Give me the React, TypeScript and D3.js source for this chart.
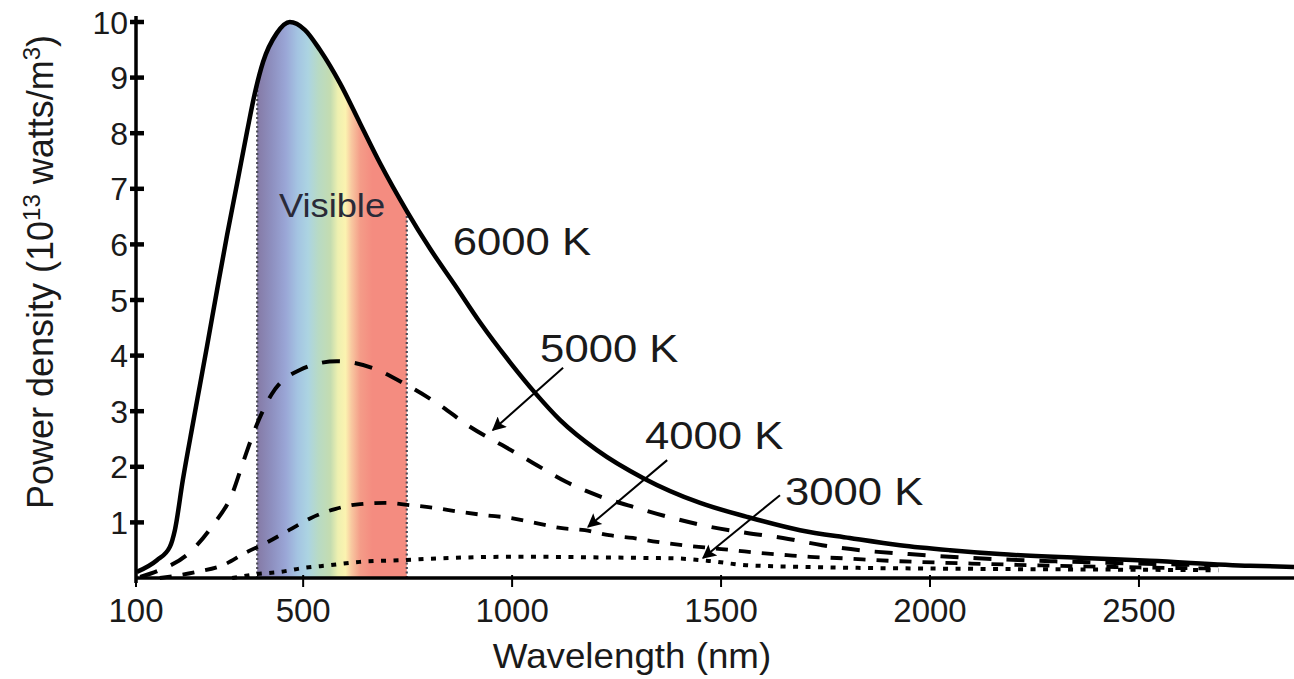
import React from "react";
import * as d3 from "d3";

const W = 1294;
const H = 679;

// ---------- data ----------
const xTicks = [100, 500, 1000, 1500, 2000, 2500];
const yTicks = [1, 2, 3, 4, 5, 6, 7, 8, 9, 10];

const lambda6000 = [102, 150, 181, 193, 212, 236, 253, 270, 294, 318, 342, 366, 385, 404, 437, 468, 504, 540, 588, 636, 684, 748, 803, 863, 923, 995, 1055, 1115, 1203, 1313, 1450, 1562, 1689, 1808, 1928, 2048, 2167, 2366, 2526, 2766, 2871];
const power6000 = [0.11, 0.32, 0.56, 0.86, 1.76, 2.77, 3.47, 4.17, 5.18, 6.17, 7.1, 8.04, 8.74, 9.28, 9.8, 10.0, 9.86, 9.5, 8.9, 8.18, 7.46, 6.6, 5.93, 5.27, 4.6, 3.88, 3.33, 2.84, 2.3, 1.8, 1.35, 1.1, 0.86, 0.72, 0.59, 0.5, 0.43, 0.36, 0.31, 0.22, 0.2];

const lambda5000 = [110, 153, 227, 284, 330, 358, 387, 425, 492, 581, 665, 748, 827, 899, 976, 1050, 1129, 1213, 1299, 1383, 1474, 1562, 1648, 1742, 1832, 1950, 2100, 2300, 2500, 2690];
const power5000 = [0.02, 0.13, 0.45, 0.95, 1.51, 2.12, 2.72, 3.31, 3.74, 3.9, 3.78, 3.47, 3.11, 2.72, 2.39, 2.07, 1.73, 1.46, 1.26, 1.08, 0.92, 0.81, 0.72, 0.59, 0.5, 0.43, 0.36, 0.3, 0.26, 0.23];

const lambda4000 = [157, 246, 308, 361, 411, 466, 519, 576, 636, 696, 756, 815, 875, 935, 995, 1055, 1115, 1174, 1232, 1289, 1347, 1409, 1474, 1529, 1593, 1658, 1713, 1777, 1900, 2100, 2300, 2500, 2690];
const power4000 = [0.0, 0.11, 0.23, 0.45, 0.63, 0.86, 1.08, 1.24, 1.33, 1.35, 1.31, 1.26, 1.19, 1.13, 1.08, 0.99, 0.9, 0.86, 0.77, 0.72, 0.65, 0.59, 0.54, 0.5, 0.45, 0.41, 0.38, 0.36, 0.31, 0.26, 0.22, 0.19, 0.17];

const lambda3000 = [330, 390, 445, 500, 564, 636, 732, 851, 971, 1091, 1210, 1330, 1400, 1480, 1560, 1700, 1850, 2000, 2200, 2450, 2690];
const power3000 = [0.0, 0.07, 0.11, 0.18, 0.23, 0.29, 0.32, 0.36, 0.38, 0.38, 0.37, 0.36, 0.35, 0.3, 0.23, 0.2, 0.18, 0.17, 0.16, 0.15, 0.14];

const visibleRange = [390, 748];

const curveLabels = ["6000 K", "5000 K", "4000 K", "3000 K"];
const labelLambda = [858, 1067, 1318, 1653];
const labelPower = [5.81, 3.88, 2.32, 1.31];

const arrowFromLambda = [1122, 1371, 1641];
const arrowFromPower = [3.78, 2.12, 1.49];
const arrowToLambda = [954, 1182, 1457];
const arrowToPower = [2.66, 0.92, 0.36];

// ---------- styles ----------
const spectrumStops: [number, string][] = [
  [0, "#857aa6"],
  [0.1, "#8e90c0"],
  [0.19, "#9aa6d6"],
  [0.27, "#a4c4e2"],
  [0.34, "#acd4e2"],
  [0.41, "#b8dac4"],
  [0.49, "#c4dcb0"],
  [0.54, "#eef0b0"],
  [0.59, "#fbf3b0"],
  [0.63, "#f8c8a0"],
  [0.69, "#f49c88"],
  [0.77, "#f48c80"],
  [1, "#f48c80"],
];

const FONT = "'Liberation Sans', Arial, Helvetica, sans-serif";
const TEXT = "#1a1a1a";

export default function App() {
  const x = d3.scaleLinear().domain([100, 2871]).range([136, 1294]);
  const y = d3.scaleLinear().domain([0, 10]).range([578, 22]);

  const mkLine = (lam: number[], pw: number[]) =>
    d3
      .line<number>()
      .x((_, i) => x(lam[i]))
      .y((d) => y(d))
      .curve(d3.curveMonotoneX)(pw) || "";

  const area6000 =
    d3
      .area<number>()
      .x((_, i) => x(lambda6000[i]))
      .y0(y(0))
      .y1((d) => y(d))
      .curve(d3.curveMonotoneX)(power6000) || "";

  const series = [
    { d: mkLine(lambda6000, power6000), dash: "none", w: 4.5 },
    { d: mkLine(lambda5000, power5000), dash: "18 15", w: 4 },
    { d: mkLine(lambda4000, power4000), dash: "12 11", w: 3.8 },
    { d: mkLine(lambda3000, power3000), dash: "5 7.5", w: 4 },
  ];

  const vx0 = x(visibleRange[0]);
  const vx1 = x(visibleRange[1]);

  return (
    <svg
      width={W}
      height={H}
      viewBox={`0 0 ${W} ${H}`}
      style={{ position: "absolute", left: 0, top: 0, background: "#fff" }}
      fontFamily={FONT}
    >
      <defs>
        <linearGradient id="spec" gradientUnits="userSpaceOnUse" x1={vx0} x2={vx1} y1={0} y2={0}>
          {spectrumStops.map(([o, c], i) => (
            <stop key={i} offset={o} stopColor={c} />
          ))}
        </linearGradient>
        <clipPath id="bandClip">
          <rect x={vx0} y={0} width={vx1 - vx0} height={y(0)} />
        </clipPath>
        <clipPath id="underCurve">
          <path d={area6000} />
        </clipPath>
        <marker
          id="arrowHead"
          viewBox="0 0 10 10"
          refX={9}
          refY={5}
          markerWidth={22}
          markerHeight={14}
          markerUnits="userSpaceOnUse"
          orient="auto"
        >
          <path d="M0,0 L10,5 L0,10 L2,5 Z" fill="#000" />
        </marker>
      </defs>

      {/* visible band */}
      <g clipPath="url(#bandClip)">
        <path d={area6000} fill="url(#spec)" />
      </g>
      <g clipPath="url(#underCurve)">
        {visibleRange.map((v, i) => (
          <line
            key={i}
            x1={x(v)}
            x2={x(v)}
            y1={y(0)}
            y2={y(10)}
            stroke="#4a4a55"
            strokeWidth={2.2}
            strokeDasharray="2 2.5"
          />
        ))}
      </g>

      {/* axes */}
      <line x1={x(100)} x2={W} y1={y(0)} y2={y(0)} stroke="#000" strokeWidth={3.5} />
      <line x1={x(100)} x2={x(100)} y1={y(0) + 5} y2={y(10) - 6} stroke="#000" strokeWidth={3.5} />
      {yTicks.map((t) => (
        <g key={t}>
          <line x1={x(100) - 6} x2={x(100) + 8} y1={y(t)} y2={y(t)} stroke="#000" strokeWidth={4.5} />
          <text x={128} y={y(t)} dy="0.36em" textAnchor="end" fontSize={32} fill={TEXT}>
            {t}
          </text>
        </g>
      ))}
      {xTicks.map((t) => (
        <g key={t}>
          <line x1={x(t)} x2={x(t)} y1={y(0) - 3} y2={y(0) + 9} stroke="#000" strokeWidth={2} />
          <text x={x(t)} y={622} textAnchor="middle" fontSize={33} fill={TEXT}>
            {t}
          </text>
        </g>
      ))}

      {/* curves */}
      {series.map((s, i) => (
        <path
          key={i}
          d={s.d}
          fill="none"
          stroke="#000"
          strokeWidth={s.w}
          strokeDasharray={s.dash}
          strokeLinejoin="round"
        />
      ))}

      {/* visible label */}
      <text
        transform={`translate(${(vx0 + vx1) / 2},217) scale(1.1,1)`}
        textAnchor="middle"
        fontSize={33}
        fill="#2a2a38"
      >
        Visible
      </text>

      {/* curve labels */}
      {curveLabels.map((l, i) => (
        <text
          key={l}
          transform={`translate(${x(labelLambda[i])},${y(labelPower[i])}) scale(1.12,1)`}
          fontSize={39}
          fill={TEXT}
        >
          {l}
        </text>
      ))}

      {/* arrows */}
      {arrowFromLambda.map((l, i) => (
        <line
          key={i}
          x1={x(l)}
          y1={y(arrowFromPower[i])}
          x2={x(arrowToLambda[i])}
          y2={y(arrowToPower[i])}
          stroke="#000"
          strokeWidth={2}
          markerEnd="url(#arrowHead)"
        />
      ))}

      {/* axis titles */}
      <text transform="translate(632,668) scale(1.05,1)" textAnchor="middle" fontSize={35} fill={TEXT}>
        Wavelength (nm)
      </text>
      <text transform="translate(53,272) rotate(-90)" textAnchor="middle" fontSize={36} fill={TEXT}>
        Power density (10
        <tspan dy={-13} fontSize={24}>
          13
        </tspan>
        <tspan dy={13}> watts/m</tspan>
        <tspan dy={-13} fontSize={24}>
          3
        </tspan>
        <tspan dy={13}>)</tspan>
      </text>
    </svg>
  );
}
